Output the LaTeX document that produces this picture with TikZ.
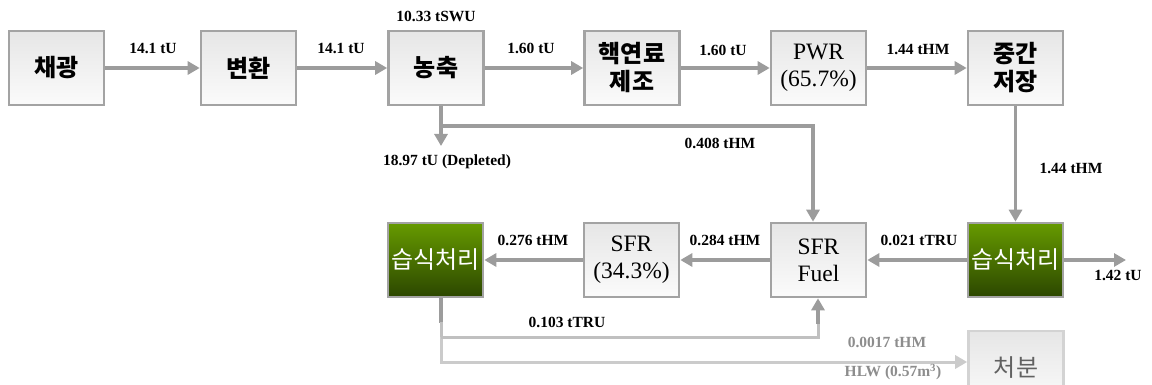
\documentclass[tikz,border=0pt]{standalone}
\usepackage{fontspec}
\setmainfont{Liberation Serif}
\newfontfamily\kr{Noto Sans CJK KR}
\usetikzlibrary{arrows.meta}
\definecolor{boxedge}{HTML}{A3A3A3}
\definecolor{boxtop}{HTML}{E6E6E6}
\definecolor{boxbot}{HTML}{FBFBFB}
\definecolor{flow}{HTML}{9C9C9C}
\definecolor{flowlight}{HTML}{C0C0C0}
\definecolor{flowpale}{HTML}{CBCBCB}
\definecolor{greentop}{HTML}{669A00}
\definecolor{greenbot}{HTML}{2C4700}
\tikzset{
  stage/.style={draw=boxedge, line width=2.6pt, top color=boxtop, bottom color=boxbot,
    minimum width=95pt, minimum height=74pt, inner sep=0pt, align=center,
    font=\fontsize{23.5}{27}\selectfont},
  wetbox/.style={stage, top color=greentop, bottom color=greenbot, text=white},
  palebox/.style={stage, draw=flowpale!85, text=black!62},
  krb/.style={font=\kr\bfseries\fontsize{24}{28}\selectfont},
  krr/.style={font=\kr\fontsize{24}{27}\selectfont},
  tipshape/.style={-{Triangle[length=12pt,width=13pt]}},
  flowline/.style={draw=flow, line width=3.2pt, tipshape},
  flowplain/.style={draw=flow, line width=3.2pt},
  qty/.style={font=\bfseries\fontsize{15.5}{17}\selectfont, inner sep=0pt},
  qtygray/.style={qty, text=flow!90!black},
}
\begin{document}
\begin{tikzpicture}[x=1pt, y=-1pt]
\useasboundingbox (0,0) rectangle (1152,385);
\clip (0,0) rectangle (1152,385);

% front end of the cycle
\node[stage, krb] (mine) at (56.5,68) {채광};
\node[stage, krb] (conv) at (248.5,68) {변환};
\node[stage, krb] (enr)  at (436,68) {농축};
\node[stage, krb] (fab)  at (632,68) {핵연료\\제조};
\node[stage] (pwr) at (818.5,68) {PWR\\(65.7\%)};
\node[stage, krb] (store) at (1015.5,68) {중간\\저장};

% fast reactor loop
\node[wetbox, krr] (wetL) at (435.5,260) {습식처리};
\node[stage] (sfr) at (631.5,260) {SFR\\(34.3\%)};
\node[stage] (fuel) at (818.5,260) {SFR\\Fuel};
\node[wetbox, krr] (wetR) at (1015.5,260) {습식처리};
\node[palebox, krr] (disp) at (1016,368) {처분};

% top-row flows
\draw[flowline] (mine.east) -- (conv.west);
\draw[flowline] (conv.east) -- (enr.west);
\draw[flowline] (enr.east) -- (fab.west);
\draw[flowline] (fab.east) -- (pwr.west);
\draw[flowline] (pwr.east) -- (store.west);
\node[qty] (l1) at (153,48) {14.1 tU};
\node[qty] (l2) at (341,48) {14.1 tU};
\node[qty] (l3) at (436,16) {10.33 tSWU};
\node[qty] (l4) at (531,48) {1.60 tU};
\node[qty] (l5) at (723,50) {1.60 tU};
\node[qty] (l6) at (918,49) {1.44 tHM};

% depleted uranium and the side stream to SFR fuel
\coordinate (tails) at (441,146);
\coordinate (split) at (441,126);
\coordinate (bend) at (813,126);
\draw[flowline] ([xshift=5pt]enr.south) -- (tails);
\draw[flowline] (split) -- (bend) -- (bend |- fuel.north);
\node[qty] (dep) at (447,162) {18.97 tU (Depleted)};
\node[qty] (l7) at (720,143) {0.408 tHM};

% spent fuel to reprocessing
\draw[flowline] (store.south) -- (wetR.north);
\node[qty] (l8) at (1071,168) {1.44 tHM};
\draw[flowline] (wetR.west) -- (fuel.east);
\node[qty] (l9) at (919,240) {0.021 tTRU};
\coordinate (uout) at (1126,260);
\draw[flowline] (wetR.east) -- (uout);
\node[qty] (l10) at (1118,275) {1.42 tU};

% fast reactor loop flows
\draw[flowline] (fuel.west) -- (sfr.east);
\node[qty] (l11) at (725,240) {0.284 tHM};
\draw[flowline] (sfr.west) -- (wetL.east);
\node[qty] (l12) at (533,240) {0.276 tHM};

% recycled TRU back to fuel, waste to disposal
\coordinate (wa) at (441,298);
\coordinate (wb) at (441,337);
\coordinate (wc) at (441,362);
\coordinate (fa) at (818,337);
\draw[draw=flowpale, line width=3pt, tipshape] (wb) -- (wc) -- (wc -| disp.west);
\draw[draw=flowlight, line width=3pt] (wb) -- (fa) -- (818,322);
\draw[flowline] (818,324) -- (fuel.south -| fa);
\draw[flowplain] (wa) -- (441,323);
\draw[draw=flowlight, line width=3pt] (441,322) -- (wb);
\node[qty] (l13) at (567,322) {0.103 tTRU};
\node[qtygray] (l14) at (887,342) {0.0017 tHM};
\node[qtygray] (l15) at (893,372) {HLW (0.57m\textsuperscript{3})};
\end{tikzpicture}
\end{document}
